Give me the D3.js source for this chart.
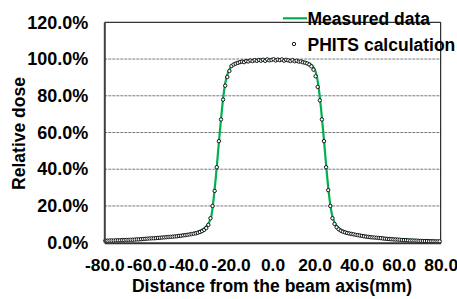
<!DOCTYPE html>
<html>
<head>
<meta charset="utf-8">
<script src="https://cdn.jsdelivr.net/npm/d3@7"></script>
<style>
  html, body { margin: 0; padding: 0; background: #fff; }
  svg { display: block; font-family: "Liberation Sans", Arial, sans-serif; }
</style>
</head>
<body>
<svg id="chart" width="457" height="299"></svg>
<script>
// ---------- data ----------
const xTickValues = [-80, -60, -40, -20, 0, 20, 40, 60, 80];
const xTickLabels = ["-80.0", "-60.0", "-40.0", "-20.0", "0.0", "20.0", "40.0", "60.0", "80.0"];
const yTickValues = [0, 20, 40, 60, 80, 100, 120];
const yTickLabels = ["0.0%", "20.0%", "40.0%", "60.0%", "80.0%", "100.0%", "120.0%"];

// PHITS calculation: positions (mm) and relative dose (%)
const phitsX = [
  -79.5,-78.5,-77.5,-76.5,-75.5,-74.5,-73.5,-72.5,-71.5,-70.5,
  -69.5,-68.5,-67.5,-66.5,-65.5,-64.5,-63.5,-62.5,-61.5,-60.5,
  -59.5,-58.5,-57.5,-56.5,-55.5,-54.5,-53.5,-52.5,-51.5,-50.5,
  -49.5,-48.5,-47.5,-46.5,-45.5,-44.5,-43.5,-42.5,-41.5,-40.5,
  -39.5,-38.5,-37.5,-36.5,-35.5,-34.5,-33.5,-32.5,-31.5,-30.5,
  -29.5,-28.5,-27.5,-26.5,-25.5,-24.5,-23.5,-22.5,-21.5,-20.5,
  -19.5,-18.5,-17.5,-16.5,-15.5,-14.5,-13.5,-12.5,-11.5,-10.5,
  -9.5,-8.5,-7.5,-6.5,-5.5,-4.5,-3.5,-2.5,-1.5,-0.5,
  0.5,1.5,2.5,3.5,4.5,5.5,6.5,7.5,8.5,9.5,
  10.5,11.5,12.5,13.5,14.5,15.5,16.5,17.5,18.5,19.5,
  20.5,21.5,22.5,23.5,24.5,25.5,26.5,27.5,28.5,29.5,
  30.5,31.5,32.5,33.5,34.5,35.5,36.5,37.5,38.5,39.5,
  40.5,41.5,42.5,43.5,44.5,45.5,46.5,47.5,48.5,49.5,
  50.5,51.5,52.5,53.5,54.5,55.5,56.5,57.5,58.5,59.5,
  60.5,61.5,62.5,63.5,64.5,65.5,66.5,67.5,68.5,69.5,
  70.5,71.5,72.5,73.5,74.5,75.5,76.5,77.5,78.5,79.5
];
const phitsDose = [
  1.1,1.1,1.2,1.2,1.2,1.3,1.3,1.3,1.4,1.4,
  1.5,1.5,1.6,1.6,1.7,1.8,1.8,1.9,2.0,2.1,
  2.2,2.3,2.4,2.4,2.5,2.6,2.7,2.8,2.9,3.0,
  3.1,3.2,3.3,3.4,3.5,3.7,3.8,4.0,4.1,4.3,
  4.5,4.7,4.9,5.1,5.4,5.8,6.3,7.0,8.0,9.7,
  13.3,20.0,28.2,41.1,55.3,67.1,77.9,85.5,90.2,93.5,
  96.2,97.0,97.5,97.9,98.3,98.6,98.3,98.9,98.7,99.2,
  98.9,99.4,99.0,99.5,99.1,99.6,99.0,99.8,99.3,99.5,
  99.9,99.2,99.7,99.4,99.8,99.1,99.6,99.3,98.9,99.4,
  98.8,99.1,98.6,98.7,98.2,98.0,97.6,97.0,96.0,94.2,
  90.6,84.8,77.5,67.1,55.3,41.1,28.6,20.0,13.3,10.2,
  8.4,7.3,6.5,6.0,5.6,5.3,5.0,4.8,4.6,4.3,
  4.1,3.9,3.7,3.5,3.3,3.2,3.0,2.9,2.8,2.7,
  2.6,2.5,2.3,2.2,2.1,2.0,1.9,1.8,1.7,1.7,
  1.6,1.5,1.4,1.4,1.3,1.2,1.2,1.1,1.1,1.0,
  1.0,0.9,0.9,0.9,0.8,0.8,0.8,0.7,0.7,0.7
];

// Measured data: positions (mm) and relative dose (%)
const measuredX = [
  -80,-70,-60,-50,-45,-40,-36,-34,-32,-31,-30,-29,-28.5,-28,-27,-26,-25,-24,-23,-22,-21,-20,-19,-18,-16,-12,-8,-4,0,
  4,8,12,16,18,19,20,21,22,23,24,25,26,27,28,29,30,31,32,34,36,40,45,50,60,70,80
];
const measuredDose = [
  1.0,1.5,2.3,3.2,3.8,4.7,5.8,6.8,8.3,9.5,11.5,15.0,19.0,24.0,35.0,48.0,61.0,73.0,83.0,89.5,93.0,95.3,96.7,97.6,98.5,99.2,99.6,99.8,100.0,
  99.8,99.5,99.0,98.2,97.3,96.3,94.5,91.0,84.0,74.0,62.0,49.0,36.0,25.0,17.0,12.5,10.0,8.5,7.5,6.3,5.5,4.5,3.6,2.9,2.0,1.4,1.0
];

const legendLabels = ["Measured data", "PHITS calculation"];
const axisTitleX = "Distance from the beam axis(mm)";
const axisTitleY = "Relative dose";

// ---------- chart ----------
const svg = d3.select("#chart");
const plot = { left: 104.3, right: 440.7, top: 22.3, bottom: 242.7 };

const x = d3.scaleLinear().domain([-80, 80]).range([plot.left, plot.right]);
const y = d3.scaleLinear().domain([0, 120]).range([plot.bottom, plot.top]);

const green = "#00b050";

// gridlines
svg.append("g")
  .selectAll("line")
  .data(yTickValues.filter(v => v > 0 && v < 120))
  .join("line")
  .attr("x1", plot.left).attr("x2", plot.right)
  .attr("y1", d => y(d)).attr("y2", d => y(d))
  .attr("stroke", "#7a7a7a")
  .attr("stroke-width", 1)
  .attr("stroke-dasharray", "3,1");

// frame: top & right thin
svg.append("line")
  .attr("x1", plot.left).attr("x2", plot.right)
  .attr("y1", plot.top).attr("y2", plot.top)
  .attr("stroke", "#000").attr("stroke-width", 1);
svg.append("line")
  .attr("x1", plot.right).attr("x2", plot.right)
  .attr("y1", plot.top).attr("y2", plot.bottom)
  .attr("stroke", "#000").attr("stroke-width", 1);

// measured line
const measured = measuredX.map((d, i) => [d, measuredDose[i]]);
svg.append("path")
  .datum(measured)
  .attr("fill", "none")
  .attr("stroke", green)
  .attr("stroke-width", 2.2)
  .attr("d", d3.line().x(d => x(d[0])).y(d => y(d[1])).curve(d3.curveMonotoneX));

// PHITS points
const phits = phitsX.map((d, i) => [d, phitsDose[i]]);
svg.append("g")
  .selectAll("circle")
  .data(phits)
  .join("circle")
  .attr("cx", d => x(d[0]))
  .attr("cy", d => y(d[1]))
  .attr("r", 1.7)
  .attr("fill", "#fff")
  .attr("stroke", "#000")
  .attr("stroke-width", 0.9);

// axes
const xAxis = d3.axisBottom(x)
  .tickValues(xTickValues)
  .tickFormat((d, i) => xTickLabels[i])
  .tickSize(0)
  .tickPadding(16);
const gx = svg.append("g")
  .attr("transform", `translate(0,${plot.bottom})`)
  .call(xAxis);
gx.select(".domain").attr("stroke", "#333").attr("stroke-width", 2);
gx.selectAll("text")
  .attr("font-family", "Liberation Sans, Arial, sans-serif")
  .attr("font-size", 17.4).attr("font-weight", "bold").attr("fill", "#000");

const yAxis = d3.axisLeft(y)
  .tickValues(yTickValues)
  .tickFormat((d, i) => yTickLabels[i])
  .tickSize(0)
  .tickPadding(16);
const gy = svg.append("g")
  .attr("transform", `translate(${plot.left},0)`)
  .call(yAxis);
gy.select(".domain").attr("stroke", "#404040").attr("stroke-width", 2);
gy.selectAll("text")
  .attr("font-family", "Liberation Sans, Arial, sans-serif")
  .attr("font-size", 18).attr("font-weight", "bold").attr("fill", "#000");

// axis titles
svg.append("text")
  .attr("x", 272).attr("y", 292)
  .attr("text-anchor", "middle")
  .attr("font-size", 17.5).attr("font-weight", "bold")
  .text(axisTitleX);
svg.append("text")
  .attr("transform", "translate(25,133.5) rotate(-90)")
  .attr("text-anchor", "middle")
  .attr("font-size", 17.5).attr("font-weight", "bold")
  .text(axisTitleY);

// legend
const lg = svg.append("g");
lg.append("line")
  .attr("x1", 283).attr("x2", 307)
  .attr("y1", 18.3).attr("y2", 18.3)
  .attr("stroke", green).attr("stroke-width", 2.2);
lg.append("text")
  .attr("x", 307.5).attr("y", 25)
  .attr("font-size", 17.5).attr("font-weight", "bold")
  .text(legendLabels[0]);
lg.append("circle")
  .attr("cx", 294).attr("cy", 44).attr("r", 1.7)
  .attr("fill", "#fff").attr("stroke", "#000").attr("stroke-width", 0.9);
lg.append("text")
  .attr("x", 307.5).attr("y", 51)
  .attr("font-size", 17.5).attr("font-weight", "bold")
  .text(legendLabels[1]);
</script>
</body>
</html>
